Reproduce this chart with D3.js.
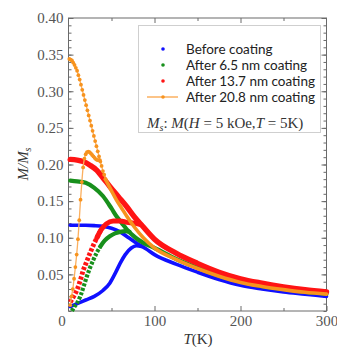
<!DOCTYPE html>
<html>
<head>
<meta charset="utf-8">
<script src="https://cdn.jsdelivr.net/npm/d3@7"></script>
<style>
  body { margin: 0; background: #fff; }
</style>
</head>
<body>
<svg id="chart" width="337" height="347"></svg>
<script>
(function() {

  // [T (K), M/Ms]
  var blueFC = [[2, 0.117], [10, 0.117], [20, 0.117], [30, 0.1165], [40, 0.1155], [50, 0.113], [60, 0.108],
    [70, 0.1], [80, 0.092], [90, 0.085], [100, 0.077], [125, 0.064], [150, 0.053], [175, 0.043],
    [200, 0.035], [225, 0.03], [250, 0.026], [275, 0.023], [300, 0.02]];
  var blueZFC = [[2, 0.006], [10, 0.01], [20, 0.015], [30, 0.02], [40, 0.028], [48, 0.038], [55, 0.053],
    [60, 0.065], [66, 0.077], [73, 0.086], [79, 0.089], [85, 0.088]];

  var greenFC = [[2, 0.178], [10, 0.177], [20, 0.175], [30, 0.168], [40, 0.157], [50, 0.14], [56, 0.129],
    [62, 0.12], [68, 0.111], [78, 0.1], [87, 0.093], [100, 0.086], [125, 0.071], [150, 0.059],
    [175, 0.048], [200, 0.04], [225, 0.034], [250, 0.03], [275, 0.026], [300, 0.0235]];
  var greenZFC = [[4, 0.0], [7, 0.006], [10, 0.011], [14, 0.021], [18, 0.035], [21, 0.046], [25, 0.059],
    [29, 0.07], [33, 0.08], [37, 0.088], [42, 0.096], [48, 0.102], [54, 0.106], [60, 0.108],
    [66, 0.109], [71, 0.108]];

  var redFC = [[2, 0.207], [10, 0.206], [17, 0.204], [25, 0.199], [33, 0.192], [40, 0.182], [48, 0.17],
    [58, 0.156], [68, 0.142], [77, 0.128], [86, 0.116], [100, 0.098], [125, 0.079], [150, 0.065],
    [175, 0.053], [200, 0.044], [225, 0.038], [250, 0.033], [275, 0.029], [300, 0.026]];
  var redZFC = [[2, 0.012], [6, 0.02], [10, 0.029], [14, 0.043], [17, 0.055], [21, 0.067], [25, 0.079],
    [29, 0.09], [33, 0.1], [38, 0.111], [44, 0.119], [52, 0.123], [60, 0.123], [68, 0.121],
    [76, 0.12], [84, 0.118]];

  var orangeFC = [[1, 0.344], [2.5, 0.343], [4, 0.342], [5.5, 0.339], [7, 0.336], [8.5, 0.332], [10, 0.328],
    [11.5, 0.322], [13, 0.316], [14.5, 0.309], [16, 0.302], [17.5, 0.295], [19, 0.288], [20.5, 0.281],
    [22, 0.274], [23.5, 0.267], [25, 0.26], [26.5, 0.253], [28, 0.246], [29.5, 0.239], [31, 0.232],
    [32.5, 0.225], [34, 0.218], [35.5, 0.211], [37, 0.204], [38.5, 0.198], [40, 0.191], [41.5, 0.186],
    [43, 0.18]];
  var orangeFCHigh = [[43, 0.18], [50, 0.164], [56, 0.151], [62, 0.14], [68, 0.129], [77, 0.114],
    [87, 0.1], [100, 0.086], [125, 0.0705], [150, 0.058], [175, 0.0475], [200, 0.039], [225, 0.0335],
    [250, 0.0292], [275, 0.0255], [300, 0.023]];
  var orangeZFC = [[2, 0.008], [3.5, 0.02], [5, 0.03], [6.5, 0.044], [8, 0.06], [9.5, 0.077], [11, 0.098],
    [12.5, 0.124], [14, 0.152], [15.5, 0.176], [17, 0.196], [18.5, 0.208], [20, 0.214], [21.5, 0.217],
    [23, 0.2175], [24.5, 0.217], [26, 0.215], [27.5, 0.213], [29, 0.211], [30.5, 0.209], [32, 0.207],
    [33.5, 0.206], [35, 0.206], [36.5, 0.206]];

  var legendLabels = ["Before coating", "After 6.5 nm coating", "After 13.7 nm coating", "After 20.8 nm coating"];
  var legendColors = ["#1010ff", "#18901c", "#ff1414", "#f7931e"];
  var yTickValues = [0.05, 0.10, 0.15, 0.20, 0.25, 0.30, 0.35, 0.40];
  var xTickValues = [0, 100, 200, 300];

  var left = 68.5, right = 326.5, top = 18, bottom = 311;

  var svg = d3.select("#chart");

  var x = d3.scaleLinear().domain([0, 300]).range([left, right]);
  var y = d3.scaleLinear().domain([0, 0.4]).range([bottom, top]);

  var line = d3.line()
      .x(function(d) { return x(d[0]); })
      .y(function(d) { return y(d[1]); })
      .curve(d3.curveMonotoneX);

  var axisColor = "#6a6a6a";
  var labelColor = "#555";

  function styleAxis(g) {
    g.select(".domain").remove();
    g.selectAll("line").attr("stroke", axisColor);
    g.selectAll("text")
      .attr("fill", labelColor)
      .style("font-family", "'Liberation Serif', 'DejaVu Serif', serif")
      .style("font-size", "15px");
  }

  // minor ticks
  svg.append("g").attr("transform", "translate(" + left + ",0)")
    .call(d3.axisLeft(y).tickValues(d3.range(0, 0.401, 0.01)).tickSize(-3).tickFormat(""))
    .call(styleAxis);
  svg.append("g").attr("transform", "translate(" + right + ",0)")
    .call(d3.axisRight(y).tickValues(d3.range(0, 0.401, 0.01)).tickSize(-3).tickFormat(""))
    .call(styleAxis);
  svg.append("g").attr("transform", "translate(0," + bottom + ")")
    .call(d3.axisBottom(x).tickValues([50, 150, 250]).tickSize(-3).tickFormat(""))
    .call(styleAxis);
  svg.append("g").attr("transform", "translate(0," + top + ")")
    .call(d3.axisTop(x).tickValues([50, 150, 250]).tickSize(-3).tickFormat(""))
    .call(styleAxis);

  // major ticks
  svg.append("g").attr("transform", "translate(" + left + ",0)")
    .call(d3.axisLeft(y).tickValues(yTickValues).tickSize(-5).tickPadding(5).tickFormat(d3.format(".2f")))
    .call(styleAxis);
  svg.append("g").attr("transform", "translate(" + right + ",0)")
    .call(d3.axisRight(y).tickValues(yTickValues).tickSize(-5).tickFormat(""))
    .call(styleAxis);
  var xAxisG = svg.append("g").attr("transform", "translate(0," + bottom + ")")
    .call(d3.axisBottom(x).tickValues(xTickValues).tickSize(-5).tickPadding(4).tickFormat(d3.format("d")))
    .call(styleAxis);
  xAxisG.selectAll(".tick").filter(function(d) { return d === 0; })
    .select("text").attr("dx", -7);
  xAxisG.selectAll(".tick").filter(function(d) { return d === 0; })
    .select("line").remove();
  svg.append("g").attr("transform", "translate(0," + top + ")")
    .call(d3.axisTop(x).tickValues([100, 200]).tickSize(-5).tickFormat(""))
    .call(styleAxis);

  // frame
  svg.append("rect")
    .attr("x", left).attr("y", top)
    .attr("width", right - left).attr("height", bottom - top)
    .attr("fill", "none").attr("stroke", axisColor).attr("stroke-width", 1);

  var plot = svg.append("g");

  function thick(data, color, width, dash) {
    var p = plot.append("path")
      .datum(data)
      .attr("d", line)
      .attr("fill", "none")
      .attr("stroke", color)
      .attr("stroke-width", width)
      .attr("stroke-linecap", "round")
      .attr("stroke-linejoin", "round");
    if (dash) p.attr("stroke-dasharray", dash).attr("stroke-linecap", "butt");
  }

  // blue
  thick(blueFC, legendColors[0], 3.6);
  thick(blueZFC, legendColors[0], 3.6);

  // green
  thick(greenFC, legendColors[1], 4.2);
  thick(greenZFC.filter(function(d) { return d[0] <= 40; }), legendColors[1], 4.2, "3,1.6");
  thick(greenZFC.filter(function(d) { return d[0] >= 37; }), legendColors[1], 4.2);

  // red
  thick(redFC, legendColors[2], 5.4);
  thick(redZFC.filter(function(d) { return d[0] <= 38; }), legendColors[2], 4.8, "3.2,1.8");
  thick(redZFC.filter(function(d) { return d[0] >= 33; }), legendColors[2], 5);

  // orange: thin line joining the points, points on top
  plot.append("path").datum(orangeZFC).attr("d", line)
    .attr("fill", "none").attr("stroke", "#fbb060").attr("stroke-width", 1.3);
  plot.append("path").datum(orangeFC.concat(orangeFCHigh.slice(1))).attr("d", line)
    .attr("fill", "none").attr("stroke", "#fbb060").attr("stroke-width", 1.3);
  thick(orangeFCHigh, legendColors[3], 3.6);
  plot.selectAll("circle.o")
    .data(orangeZFC.concat(orangeFC))
    .enter().append("circle")
    .attr("class", "o")
    .attr("cx", function(d) { return x(d[0]); })
    .attr("cy", function(d) { return y(d[1]); })
    .attr("r", 1.9)
    .attr("fill", legendColors[3]);

  // legend
  var lg = svg.append("g");
  lg.append("rect")
    .attr("x", 138.5).attr("y", 25.5).attr("width", 182).attr("height", 107)
    .attr("fill", "#fff").attr("stroke", "#cfcfcf").attr("stroke-width", 1);
  var rowY = [49, 65, 81, 97];
  legendLabels.forEach(function(lab, i) {
    if (i === 3) {
      lg.append("line").attr("x1", 147).attr("x2", 178).attr("y1", rowY[i]).attr("y2", rowY[i])
        .attr("stroke", "#fbb060").attr("stroke-width", 1.5);
    }
    lg.append("circle").attr("cx", 163).attr("cy", rowY[i]).attr("r", 1.8).attr("fill", legendColors[i]);
    lg.append("text")
      .attr("x", 186).attr("y", rowY[i] + 4.5)
      .attr("fill", "#222")
      .style("font-family", "Lato, 'Liberation Sans', sans-serif")
      .style("font-size", "13.5px")
      .text(lab);
  });

  var ms = lg.append("text")
    .attr("x", 147).attr("y", 128)
    .attr("fill", "#333")
    .style("font-family", "'Liberation Serif', serif")
    .style("font-size", "15px");
  ms.append("tspan").style("font-style", "italic").text("M");
  ms.append("tspan").style("font-style", "italic").style("font-size", "10px").attr("dy", 3).text("s");
  ms.append("tspan").attr("dy", -3).text(": ");
  ms.append("tspan").style("font-style", "italic").text("M");
  ms.append("tspan").text("(");
  ms.append("tspan").style("font-style", "italic").text("H");
  ms.append("tspan").text(" = 5 kOe,");
  ms.append("tspan").style("font-style", "italic").text("T");
  ms.append("tspan").text(" = 5K)");

  // axis titles
  var xt = svg.append("text")
    .attr("x", 198).attr("y", 344)
    .attr("text-anchor", "middle")
    .attr("fill", "#333")
    .style("font-family", "'Liberation Serif', serif")
    .style("font-size", "15px");
  xt.append("tspan").style("font-style", "italic").text("T");
  xt.append("tspan").text("(K)");

  var yt = svg.append("text")
    .attr("transform", "translate(28,164) rotate(-90)")
    .attr("text-anchor", "middle")
    .attr("fill", "#333")
    .style("font-family", "'Liberation Serif', serif")
    .style("font-size", "15px")
    .style("font-style", "italic");
  yt.append("tspan").text("M/M");
  yt.append("tspan").style("font-size", "10px").attr("dy", 3).text("s");

})();
</script>
</body>
</html>
